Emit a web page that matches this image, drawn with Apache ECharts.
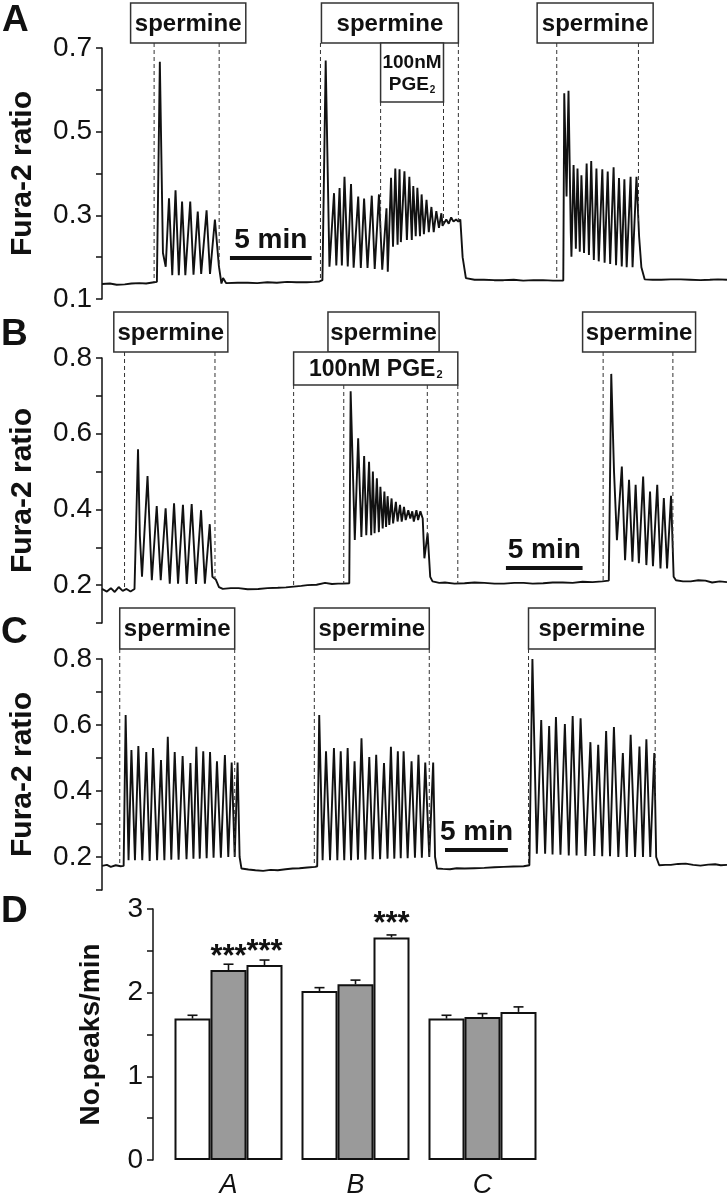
<!DOCTYPE html>
<html><head><meta charset="utf-8">
<script src="https://cdn.jsdelivr.net/npm/echarts@6/dist/echarts.min.js"></script>
<style>html,body{margin:0;padding:0;background:#fff}#c{width:727px;height:1199px}</style>
</head><body><div id="c"></div>
<script>
// ================= DATA =================
// Fura-2 ratio traces: [time (min), ratio]
const traceA = [
[0.00,0.136],[0.48,0.137],[0.9,0.134],[1.39,0.135],[1.8,0.137],[2.29,0.138],[2.7,0.137],[3.19,0.140],[3.36,0.141],
[3.54,0.667],[3.73,0.210],[3.90,0.177],[4.10,0.341],[4.30,0.157],[4.50,0.360],[4.70,0.157],[4.90,0.333],[5.10,0.157],
[5.40,0.333],[5.60,0.158],[5.86,0.309],[6.07,0.160],[6.40,0.312],[6.61,0.160],[6.91,0.290],[7.15,0.180],[7.31,0.137],[7.41,0.150],[7.59,0.138],
[8.3,0.139],[8.92,0.139],[9.5,0.138],[10.12,0.140],[10.7,0.139],[11.33,0.141],[11.9,0.140],[12.53,0.140],[13.0,0.141],[13.31,0.142],[13.49,0.145],
[13.69,0.670],[13.92,0.177],[14.20,0.353],[14.34,0.180],[14.54,0.365],[14.68,0.180],[14.84,0.392],[15.04,0.178],[15.24,0.375],[15.40,0.175],
[15.68,0.345],[15.84,0.174],[16.04,0.340],[16.25,0.174],[16.51,0.347],[16.69,0.172],[16.95,0.350],[17.15,0.170],[17.41,0.317],[17.49,0.165],
[17.69,0.390],[17.81,0.225],[17.95,0.412],[18.09,0.230],[18.21,0.410],[18.29,0.236],[18.51,0.405],[18.66,0.241],[18.81,0.392],[18.96,0.241],
[19.05,0.370],[19.20,0.250],[19.30,0.366],[19.46,0.250],[19.56,0.350],[19.70,0.255],[19.86,0.337],[20.00,0.260],[20.16,0.320],[20.30,0.260],
[20.46,0.310],[20.62,0.270],[20.77,0.305],[20.84,0.275],[21.07,0.290],[21.22,0.280],[21.37,0.295],[21.51,0.285],[21.67,0.290],[21.81,0.285],
[21.93,0.290],[22.07,0.200],[22.27,0.150],
[22.8,0.146],[23.37,0.146],[24.0,0.145],[24.58,0.145],[25.2,0.146],[25.78,0.144],[26.4,0.145],[26.99,0.145],[27.6,0.144],[28.23,0.144],
[28.29,0.592],[28.43,0.345],[28.55,0.598],[28.69,0.258],[28.73,0.201],[28.86,0.420],[29.00,0.220],[29.10,0.412],[29.24,0.213],
[29.34,0.396],[29.50,0.210],[29.66,0.424],[29.80,0.205],[29.94,0.430],[30.10,0.193],[30.26,0.412],[30.40,0.190],[30.62,0.410],[30.76,0.187],
[30.95,0.405],[31.10,0.184],[31.31,0.415],[31.46,0.181],[31.64,0.389],[31.81,0.178],[31.97,0.386],[32.11,0.176],[32.35,0.392],[32.47,0.176],
[32.71,0.392],[32.87,0.250],[33.01,0.176],[33.21,0.147],
[33.7,0.146],[34.22,0.146],[34.8,0.147],[35.42,0.147],[36.0,0.146],[36.63,0.145],[37.2,0.146],[37.7,0.147],[38.25,0.146]
];
const traceB = [
[0.00,0.190],[0.32,0.183],[0.58,0.192],[0.83,0.182],[1.09,0.195],[1.35,0.185],[1.60,0.190],[1.86,0.183],[2.12,0.190],[2.24,0.192],
[2.35,0.559],[2.47,0.330],[2.61,0.222],[2.97,0.488],[3.25,0.213],[3.57,0.409],[3.83,0.213],[4.15,0.403],[4.42,0.204],
[4.70,0.416],[4.96,0.204],[5.28,0.412],[5.53,0.203],[5.85,0.414],[6.13,0.203],[6.46,0.398],[6.71,0.204],
[7.03,0.361],[7.20,0.222],[7.42,0.215],[7.63,0.195],[7.88,0.190],
[8.4,0.192],[8.91,0.192],[9.5,0.189],[10.19,0.190],[10.8,0.192],[11.47,0.193],[12.0,0.194],[12.5,0.196],[13.0,0.198],[13.40,0.200],
[14.0,0.201],[14.55,0.206],[15.0,0.203],[15.4,0.204],[15.71,0.204],[16.13,0.205],
[16.22,0.712],[16.49,0.319],[16.71,0.588],[16.92,0.327],[17.10,0.541],[17.24,0.332],[17.42,0.526],[17.56,0.332],[17.67,0.500],[17.78,0.337],
[17.93,0.482],[18.06,0.340],[18.16,0.460],[18.31,0.350],[18.42,0.447],[18.53,0.354],[18.63,0.435],[18.74,0.359],[18.89,0.429],[18.99,0.363],
[19.17,0.420],[19.28,0.368],[19.44,0.412],[19.55,0.368],[19.70,0.407],[19.81,0.372],[19.98,0.398],[20.11,0.376],[20.24,0.395],[20.34,0.368],
[20.51,0.398],[20.62,0.372],[20.77,0.395],[20.92,0.376],[21.03,0.271],[21.24,0.337],[21.41,0.222],[21.56,0.210],
[22.0,0.206],[22.37,0.207],[23.0,0.204],[23.65,0.205],[24.3,0.207],[24.94,0.206],[25.6,0.204],[26.22,0.204],[26.9,0.206],[27.5,0.206],
[28.1,0.204],[28.78,0.205],[29.4,0.207],[30.06,0.207],[30.7,0.206],[31.35,0.209],[32.0,0.208],[32.63,0.210],[33.06,0.212],
[33.22,0.758],[33.40,0.500],[33.59,0.319],[33.91,0.513],[34.12,0.266],[34.38,0.478],[34.60,0.262],[34.81,0.465],[35.02,0.258],
[35.30,0.487],[35.51,0.253],[35.75,0.447],[35.94,0.250],[36.22,0.465],[36.43,0.244],[36.65,0.430],[36.86,0.244],
[37.12,0.436],[37.29,0.222],[37.44,0.213],
[37.9,0.210],[38.40,0.210],[38.9,0.213],[39.36,0.212],[39.8,0.207],[40.3,0.210],[40.77,0.208]
];
const traceC = [
[0.00,0.173],[0.39,0.176],[0.70,0.170],[1.09,0.175],[1.48,0.172],[1.72,0.173],
[1.88,0.630],[2.11,0.190],[2.34,0.524],[2.62,0.190],[2.89,0.536],[3.20,0.190],[3.52,0.518],[3.79,0.188],[4.06,0.530],[4.38,0.190],
[4.69,0.494],[4.96,0.190],[5.23,0.564],[5.51,0.192],[5.78,0.518],[6.09,0.192],[6.41,0.506],[6.72,0.193],[7.03,0.485],[7.27,0.195],
[7.50,0.534],[7.77,0.195],[8.05,0.520],[8.32,0.196],[8.59,0.518],[8.87,0.198],[9.14,0.490],[9.45,0.198],[9.77,0.509],[10.04,0.200],
[10.31,0.486],[10.55,0.200],[10.78,0.486],[10.94,0.200],[11.09,0.165],
[11.64,0.162],[12.2,0.160],[12.81,0.158],[13.4,0.161],[13.98,0.160],[14.6,0.163],[15.16,0.165],[15.7,0.166],[16.33,0.168],[16.95,0.170],[17.11,0.172],
[17.27,0.630],[17.54,0.190],[17.81,0.520],[18.13,0.190],[18.44,0.530],[18.71,0.190],[18.98,0.520],[19.26,0.190],[19.53,0.530],[19.80,0.190],
[20.08,0.490],[20.35,0.192],[20.63,0.560],[20.94,0.192],[21.25,0.503],[21.52,0.193],[21.80,0.510],[22.11,0.193],[22.42,0.485],[22.70,0.195],
[22.97,0.534],[23.24,0.195],[23.52,0.520],[23.75,0.196],[23.98,0.520],[24.30,0.196],[24.61,0.490],[24.88,0.198],[25.16,0.510],[25.43,0.198],
[25.70,0.486],[26.02,0.200],[26.33,0.486],[26.48,0.200],[26.64,0.165],
[27.1,0.164],[27.66,0.163],[28.2,0.166],[28.83,0.165],[29.6,0.166],[30.39,0.167],[31.2,0.169],[31.95,0.170],[32.7,0.171],[33.52,0.172],[33.98,0.175],
[34.22,0.800],[34.57,0.210],[34.92,0.615],[35.23,0.210],[35.55,0.597],[35.82,0.208],[36.09,0.624],[36.45,0.207],[36.80,0.603],[37.11,0.205],
[37.42,0.627],[37.73,0.205],[38.05,0.620],[38.44,0.203],[38.83,0.548],[39.14,0.203],[39.45,0.540],[39.77,0.202],[40.08,0.582],[40.39,0.202],
[40.70,0.594],[41.05,0.200],[41.41,0.515],[41.72,0.200],[42.03,0.570],[42.38,0.200],[42.73,0.535],[43.01,0.200],[43.28,0.557],[43.59,0.200],
[43.91,0.515],[44.06,0.200],[44.30,0.175],
[44.8,0.176],[45.23,0.176],[45.8,0.179],[46.41,0.180],[47.0,0.176],[47.58,0.174],[48.2,0.177],[48.75,0.178],[49.2,0.175],[49.69,0.176]
];
// time span shown in each trace panel (min)
const spanA = 38.25, spanB = 40.77, spanC = 49.69;
// y tick labels
const yLabelsA = ['0.1','0.3','0.5','0.7'];
const yLabelsBC = ['0.2','0.4','0.6','0.8'];
const yLabelsD = ['0','1','2','3'];
// application times (min)
const spermineA = [[3.19,7.17],[13.37,21.81],[27.83,32.83]];
const pgeA = [[17.05,20.90]];
const spermineB = [[1.47,7.37],[15.77,21.22],[32.69,37.24]];
const pgeB = [[12.5,23.21]];
const spermineC = [[1.41,10.55],[16.88,26.02],[33.91,43.98]];
const scaleMinutes = 5;
// Panel D: peaks per minute
const barCategories = ['A','B','C'];
const peaksFirst  = [1.69, 2.02, 1.69];
const peaksSecond = [2.27, 2.10, 1.71];
const peaksThird  = [2.33, 2.66, 1.77];
const semFirst  = [0.04, 0.04, 0.04];
const semSecond = [0.07, 0.05, 0.04];
const semThird  = [0.06, 0.03, 0.06];
const sigSecond = [true, false, false];
const sigThird  = [true, true, false];

// ================= LAYOUT / STYLE =================
const FONT = '"Liberation Sans", Arial, sans-serif';
const INK = '#111';
const grids = [
  {left:92, top:48, width:635, height:251},
  {left:91, top:358, width:636, height:265},
  {left:91, top:659, width:636, height:231},
  {left:165, top:909, width:381, height:262}
];
// annotation boxes: time extents (min) + pixel rows
const boxesA = [
  {text:'spermine', from:1.75, to:8.80, y0:3, y1:43},
  {text:'spermine', from:13.43, to:21.81, y0:3, y1:43},
  {text:'pge2', from:17.05, to:20.90, y0:43, y1:102},
  {text:'spermine', from:26.63, to:33.73, y0:3, y1:43}
];
const boxesB = [
  {text:'spermine', from:0.77, to:8.21, y0:312, y1:352},
  {text:'spermine', from:14.74, to:21.99, y0:312, y1:352},
  {text:'pge2line', from:12.5, to:23.21, y0:352, y1:385},
  {text:'spermine', from:31.35, to:38.72, y0:312, y1:352}
];
const boxesC = [
  {text:'spermine', from:1.41, to:10.55, y0:608, y1:649},
  {text:'spermine', from:16.88, to:26.02, y0:608, y1:649},
  {text:'spermine', from:33.91, to:43.98, y0:608, y1:649}
];
const scales = [
  {grid:0, start:7.83, level:0.198},
  {grid:1, start:26.35, level:0.245},
  {grid:2, start:27.27, level:0.221}
];

function yAxisTrace(gi, min, max, labels) {
  return {
    type:'value', gridIndex:gi, min:min, max:max, interval:0.1,
    name:'Fura-2 ratio', nameLocation:'middle', nameGap:64, nameRotate:90,
    nameTextStyle:{fontSize:30, fontWeight:'bold', color:INK, fontFamily:FONT},
    axisLine:{show:true, lineStyle:{color:INK, width:1.5}},
    axisTick:{show:true, length:6, lineStyle:{color:INK, width:1.5}},
    splitLine:{show:false},
    axisLabel:{fontSize:28, color:INK, fontFamily:FONT, margin:10, showMinLabel:true, showMaxLabel:true,
      formatter: v => labels.includes(v.toFixed(1)) ? v.toFixed(1) : ''}
  };
}
function xAxisTrace(gi, span) {
  return {type:'value', gridIndex:gi, min:0, max:span, show:false};
}
function traceSeries(gi, data) {
  return {type:'line', xAxisIndex:gi, yAxisIndex:gi, data:data, showSymbol:false, symbol:'none',
    lineStyle:{color:INK, width:1.9}, animation:false, z:3};
}

const BAR_W = 36;
function barSeries(name, vals, color, sig) {
  return {
    type:'bar', name:name, xAxisIndex:3, yAxisIndex:3, barWidth:BAR_W, barGap:'0%',
    data: vals.map((v,i) => sig && sig[i] ? {value:v, label:{show:true}} : {value:v}),
    itemStyle:{color:color, borderColor:INK, borderWidth:2},
    label:{show:false, position:'top', distance:-3, formatter:'***', fontSize:31, fontWeight:'bold', color:INK, fontFamily:FONT},
    animation:false, z:2
  };
}
const errData = [];
[[peaksFirst, semFirst],[peaksSecond, semSecond],[peaksThird, semThird]].forEach((p, si) => {
  p[0].forEach((v, ci) => errData.push([ci, si, v, p[1][ci]]));
});

const option = {
  animation:false,
  backgroundColor:'#fff',
  grid: grids.map(g => Object.assign({containLabel:false}, g)),
  xAxis: [
    xAxisTrace(0, spanA), xAxisTrace(1, spanB), xAxisTrace(2, spanC),
    {type:'category', gridIndex:3, data:barCategories,
     axisLine:{show:false}, axisTick:{show:false},
     axisLabel:{fontSize:27, fontStyle:'italic', color:INK, fontFamily:FONT, margin:12}}
  ],
  yAxis: [
    yAxisTrace(0, 0.1, 0.7, yLabelsA),
    yAxisTrace(1, 0.1, 0.8, yLabelsBC),
    yAxisTrace(2, 0.1, 0.8, yLabelsBC),
    {type:'value', gridIndex:3, min:0, max:3, interval:0.5, offset:12,
     name:'No.peaks/min', nameLocation:'middle', nameGap:48, nameRotate:90,
     nameTextStyle:{fontSize:28, fontWeight:'bold', color:INK, fontFamily:FONT},
     axisLine:{show:true, lineStyle:{color:INK, width:1.5}},
     axisTick:{show:true, length:6, lineStyle:{color:INK, width:1.5}},
     splitLine:{show:false},
     axisLabel:{fontSize:28, color:INK, fontFamily:FONT, margin:10, showMinLabel:true, showMaxLabel:true,
       formatter: v => yLabelsD.includes(String(v)) ? String(v) : ''}}
  ],
  series: [
    traceSeries(0, traceA), traceSeries(1, traceB), traceSeries(2, traceC),
    barSeries('first', peaksFirst, '#fff', null),
    barSeries('second', peaksSecond, '#9a9a9a', sigSecond),
    barSeries('third', peaksThird, '#fff', sigThird),
    {type:'custom', xAxisIndex:3, yAxisIndex:3, data:errData, z:5, animation:false,
     encode:{x:0, y:2},
     renderItem:(params, api) => {
       const ci = api.value(0), si = api.value(1), v = api.value(2), e = api.value(3);
       const b = api.coord([ci, v]), t = api.coord([ci, v + e]);
       const x = b[0] + (si - 1) * BAR_W;
       const st = {stroke:INK, lineWidth:1.6};
       return {type:'group', children:[
         {type:'line', shape:{x1:x, y1:b[1], x2:x, y2:t[1]}, style:st},
         {type:'line', shape:{x1:x-5, y1:t[1], x2:x+5, y2:t[1]}, style:st}
       ]};
     }}
  ]
};

const chart = echarts.init(document.getElementById('c'));
chart.setOption(option);

// ================= ANNOTATIONS (placed through the axes' scales) =================
const traces = [traceA, traceB, traceC];
function px(gi, t, v) { return chart.convertToPixel({gridIndex:gi}, [t, v]); }
function traceAt(tr, t) {
  for (let i = 1; i < tr.length; i++) {
    if (tr[i][0] >= t) {
      const a = tr[i-1], b = tr[i];
      return a[1] + (b[1] - a[1]) * (t - a[0]) / (b[0] - a[0]);
    }
  }
  return tr[tr.length-1][1];
}
const g = [];
function addBox(gi, b) {
  const x0 = px(gi, b.from, 0.5)[0], x1 = px(gi, b.to, 0.5)[0];
  g.push({type:'rect', z:20, shape:{x:x0, y:b.y0, width:x1-x0, height:b.y1-b.y0},
          style:{fill:'#fff', stroke:'#333', lineWidth:1.5}});
  const cx = (x0 + x1) / 2, cy = (b.y0 + b.y1) / 2;
  if (b.text === 'spermine') {
    g.push({type:'text', z:21, x:cx, y:cy+1, style:{text:'spermine', font:'bold 24px ' + FONT, fill:INK,
      align:'center', verticalAlign:'middle'}});
  } else if (b.text === 'pge2') {
    g.push({type:'text', z:21, x:cx, y:cy+1, style:{text:'{a|100nM}\n{a|PGE}{s|2}', fill:INK,
      align:'center', verticalAlign:'middle',
      rich:{a:{font:'bold 19px ' + FONT, lineHeight:22, fill:INK}, s:{font:'bold 10px ' + FONT, lineHeight:22, verticalAlign:'bottom', padding:[8,0,0,1], fill:INK}}}});
  } else {
    g.push({type:'text', z:21, x:cx, y:cy+1, style:{text:'{a|100nM PGE}{s|2}', fill:INK,
      align:'center', verticalAlign:'middle',
      rich:{a:{font:'bold 23px ' + FONT, fill:INK}, s:{font:'bold 11px ' + FONT, padding:[10,0,0,1], fill:INK}}}});
  }
}
function addDash(gi, t, yTop) {
  const x = px(gi, t, 0.5)[0];
  const yb = px(gi, t, traceAt(traces[gi], t))[1];
  g.push({type:'line', z:4, shape:{x1:x, y1:yTop, x2:x, y2:yb},
          style:{stroke:'#333', lineWidth:1, lineDash:[4,3]}});
}
boxesA.forEach(b => addBox(0, b));
boxesB.forEach(b => addBox(1, b));
boxesC.forEach(b => addBox(2, b));
spermineA.forEach(p => p.forEach(t => addDash(0, t, 43)));
pgeA.forEach(p => p.forEach(t => addDash(0, t, 102)));
spermineB.forEach((p, i) => p.forEach(t => addDash(1, t, i === 1 ? 385 : 352)));
pgeB.forEach(p => p.forEach(t => addDash(1, t, 385)));
spermineC.forEach(p => p.forEach(t => addDash(2, t, 649)));
scales.forEach(s => {
  const a = px(s.grid, s.start, s.level), b = px(s.grid, s.start + scaleMinutes, s.level);
  g.push({type:'line', z:10, shape:{x1:a[0], y1:a[1], x2:b[0], y2:b[1]}, style:{stroke:INK, lineWidth:4}});
  g.push({type:'text', z:10, x:(a[0]+b[0])/2, y:a[1]-4, style:{text:scaleMinutes + ' min', font:'bold 28px ' + FONT,
    fill:INK, align:'center', verticalAlign:'bottom'}});
});
// panel letters
[['A',2,2],['B',1,316],['C',1,614],['D',1,893]].forEach(l => {
  g.push({type:'text', z:10, x:l[1], y:l[2], style:{text:l[0], font:'bold 37px ' + FONT, fill:INK, align:'left', verticalAlign:'top'}});
});
chart.setOption({graphic: g});
</script>
</body></html>
